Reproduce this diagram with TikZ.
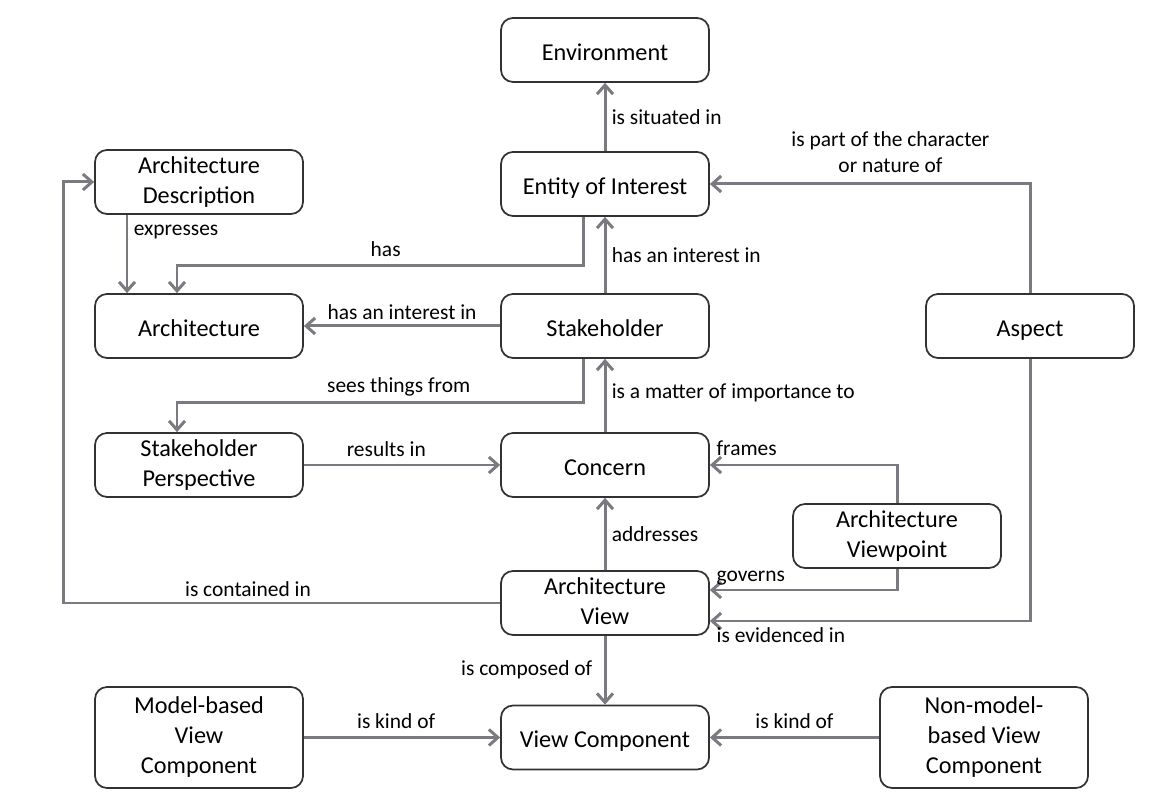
\documentclass[tikz,border=0pt]{standalone}
\usepackage{fontspec}
\setmainfont{Carlito}
\usepackage{xcolor}
\usepackage{tikz}
\usetikzlibrary{arrows.meta}

\definecolor{linkgray}{RGB}{122,122,128}
\definecolor{boxgray}{RGB}{50,50,50}
\newcommand{\cstrut}{\rule[-2.4pt]{0pt}{16.4pt}}

\begin{document}
\begin{tikzpicture}[
    concept/.style={draw=boxgray, line width=1pt, rounded corners=0.24cm,
        minimum width=4.16cm, minimum height=1.28cm, align=center,
        inner ysep=0pt, font=\fontsize{13.8}{17}\selectfont,
        execute at begin node=\cstrut, execute at end node=\cstrut},
    link/.style={draw=linkgray, line width=1.7pt,
        -{Straight Barb[length=1.8mm,width=3.2mm]}},
    rel/.style={font=\fontsize{12.2}{14.5}\selectfont, text=black, inner sep=3pt},
]
        \useasboundingbox (0,0) rectangle (23.16,16.2);

        % top row
        \node [concept] (environment) at (12.1,15.2) {Environment};
        \node [concept] (entity) at (12.1,12.52) {Entity of Interest};
        \node [concept] (archdesc) at (3.98,12.56) {Architecture\\Description};

        % middle rows
        \node [concept] (architecture) at (3.98,9.68) {Architecture};
        \node [concept] (stakeholder) at (12.1,9.68) {Stakeholder};
        \node [concept] (aspect) at (20.6,9.68) {Aspect};
        \node [concept] (perspective) at (3.98,6.9) {Stakeholder\\Perspective};
        \node [concept] (concern) at (12.1,6.9) {Concern};
        \node [concept] (viewpoint) at (17.94,5.48) {Architecture\\Viewpoint};
        \node [concept] (view) at (12.1,4.14) {Architecture\\View};

        % components
        \node [concept, minimum height=2.02cm] (modelcomp) at (3.98,1.45) {Model-based\\View\\Component};
        \node [concept] (viewcomp) at (12.1,1.45) {View Component};
        \node [concept, minimum height=2.02cm] (nonmodelcomp) at (19.68,1.45) {Non-model-\\based View\\Component};

        \draw[link] (entity) -- (environment)
        node[rel, midway, right]{is situated in};
        \draw[link] (stakeholder) -- (entity)
        node[rel, midway, right]{has an interest in};
        \draw[link] ([xshift=-0.44cm]entity.south) -- ++(0,-0.98) -| ([xshift=-0.44cm]architecture.north)
        node[rel, pos=0.243, above, yshift=0.04cm]{has};
        \draw[link] ([xshift=-1.44cm]archdesc.south) -- ([xshift=-1.44cm]architecture.north)
        node[rel, pos=0, anchor=north west, yshift=-0.06cm]{expresses};
        \draw[link] (stakeholder) -- (architecture)
        node[rel, midway, above]{has an interest in};
        \draw[link] ([xshift=-0.44cm]stakeholder.south) -- ++(0,-0.88) -| ([xshift=-0.44cm]perspective.north)
        node[rel, pos=0.227, above]{sees things from};
        \draw[link] (concern) -- (stakeholder)
        node[rel, midway, right, yshift=0.05cm]{is a matter of importance to};
        \draw[link] (perspective) -- (concern)
        node[rel, pos=0.42, above, yshift=0.04cm]{results in};
        \draw[link] (aspect.north) |- (entity.east)
        node[rel, pos=0.718, above, align=center, yshift=0.1cm]{is part of the character\\or nature of};
        \draw[link] (viewpoint.north) |- (concern.east)
        node[rel, pos=1, above right, yshift=0.06cm]{frames};
        \draw[link] (view) -- (concern)
        node[rel, midway, right]{addresses};
        \draw[link] (viewpoint.south) |- ([yshift=0.26cm]view.east)
        node[rel, pos=1, above right, yshift=-0.04cm]{governs};
        \draw[link] (aspect.south) |- ([yshift=-0.36cm]view.east)
        node[rel, pos=1, below right]{is evidenced in};
        \draw[link] (view.west) -- node[rel, pos=0.577, above]{is contained in} ++(-8.74,0) |- (archdesc.west);
        \draw[link] (view) -- (viewcomp)
        node[rel, midway, left, xshift=-0.12cm]{is composed of};
        \draw[link] (modelcomp) -- (viewcomp)
        node[rel, pos=0.47, above, yshift=0.04cm]{is kind of};
        \draw[link] (nonmodelcomp) -- (viewcomp)
        node[rel, midway, above, yshift=0.04cm]{is kind of};
\end{tikzpicture}
\end{document}
